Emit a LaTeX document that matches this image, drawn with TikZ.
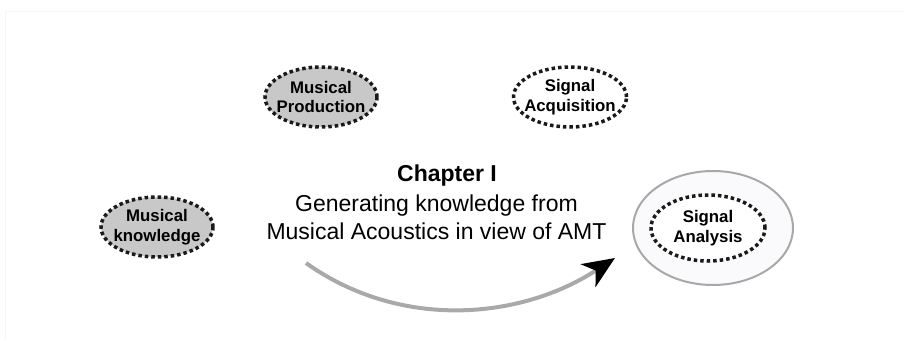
\documentclass[tikz,border=0pt]{standalone}
\usepackage{fontspec}
\setmainfont{Liberation Sans}
\usetikzlibrary{shapes.geometric,arrows.meta}

\definecolor{dotink}{HTML}{1A1A1A}
\definecolor{topicfill}{HTML}{C8C8C8}
\definecolor{ringfill}{HTML}{FAFAFC}
\definecolor{ringline}{HTML}{A8A8A8}
\definecolor{flowgray}{HTML}{A9A9A9}
\definecolor{framegray}{HTML}{F6F6F6}

\tikzset{
  topic/.style={ellipse, draw=dotink, line width=3.5pt,
    dash pattern=on 3.5pt off 3pt, inner xsep=-7pt, inner ysep=0pt,
    minimum width=112pt, minimum height=60pt, align=center,
    font=\fontsize{16.8}{19.5}\selectfont\bfseries},
  shaded/.style={topic, fill=topicfill},
  plain/.style={topic, fill=white},
  ring/.style={ellipse, draw=ringline, line width=2pt, fill=ringfill,
    minimum width=160pt, minimum height=114pt},
  chaptertext/.style={align=center, font=\fontsize{23}{28}\selectfont},
  flow/.style={draw=flowgray, line width=4pt,
    -{Stealth[black, length=32pt, width=27pt, inset=9pt]}}
}

\begin{document}
\begin{tikzpicture}[x=1pt, y=-1pt]
  \useasboundingbox (0,0) rectangle (904,340);
  % faint page frame
  \draw[framegray, line width=1pt] (904,11) -- (5,11) -- (5,340);

  % topic ellipses
  \node[shaded] (mprod) at (321,97) {Musical\\Production};
  \node[plain, minimum width=113pt] (sacq) at (570,97) {Signal\\Acquisition};
  \node[shaded] (mknow) at (157,227) {Musical\\knowledge};

  % highlighted target with nested topic
  \node[ring] (outer) at (713,228) {};
  \node[plain, minimum width=114pt, minimum height=66pt] (sanal) at (708,228) {Signal\\Analysis};

  % chapter caption
  \node[font=\fontsize{23}{28}\selectfont\bfseries] (chap) at (447,176) {Chapter I};
  \node[chaptertext, anchor=north] (desc) at (436.5,191) {Generating knowledge from\\Musical Acoustics in view of AMT};

  % curved arrow under the caption
  \coordinate (flowstart) at (306,263);
  \coordinate (flowend) at (615,258);
  \draw[flow] (flowstart) .. controls (400,330) and (520,320) .. (flowend);
\end{tikzpicture}
\end{document}
